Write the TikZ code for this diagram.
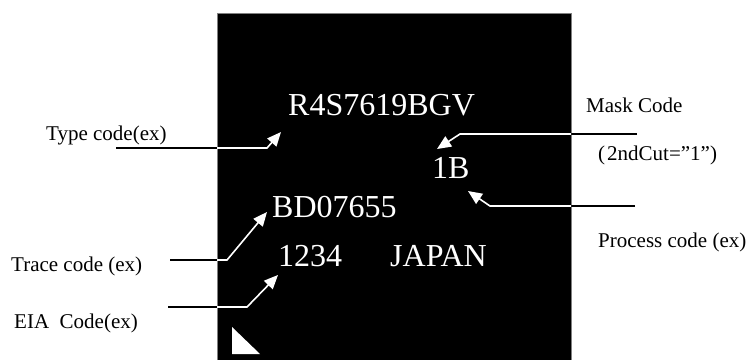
\documentclass[tikz,border=0pt]{standalone}
\usepackage{fontspec}
\setmainfont{Liberation Serif}
\usetikzlibrary{arrows.meta}
\begin{document}
\begin{tikzpicture}[x=1pt,y=-1pt,
  code/.style={text=white,font=\fontsize{32}{38}\selectfont,inner sep=0pt,anchor=base west},
  lbl/.style={text=black,font=\fontsize{21}{25}\selectfont,inner sep=0pt,anchor=base west},
  outline/.style={draw=black,line width=1.6pt},
  inline/.style={draw=white,line width=1.6pt,-{Triangle[length=14pt,width=12pt]}}]
\useasboundingbox (0,0) rectangle (752,360);
\fill[black] (217,13) rectangle (571,360);
\draw[gray,line width=0.4pt] (217,360) -- (217,13) -- (571,13) -- (571,360);
% codes on the chip
\node[code] (type) at (288,115) {R4S7619BGV};
\node[code] (mask) at (432,178) {1B};
\node[code] (trace) at (272,217) {BD07655};
\node[code] (eia) at (278,266) {1234};
\node[code] (japan) at (390,266) {JAPAN};
\fill[white] (232,327) -- (232,354) -- (260,354) -- cycle;
% labels
\node[lbl] (ltype) at (46,140) {Type code(ex)};
\node[lbl] (lmask) at (586,112) {Mask Code};
\node[lbl] (lcut) at (598,160) {(\hspace{2pt}2ndCut=”1”)};
\node[lbl] (lproc) at (598,247) {Process code (ex)};
\node[lbl] (ltrace) at (11,271) {Trace code (ex)};
\node[lbl] (leia) at (14,328) {EIA\ \ Code(ex)};
% connector points
\coordinate (ts) at (116,148); \coordinate (te) at (217,148); \coordinate (tb) at (267,148); \coordinate (tt) at (281,132);
\coordinate (rs) at (170,260); \coordinate (re) at (217,260); \coordinate (rb) at (227,260); \coordinate (rt) at (267,212);
\coordinate (es) at (168,307); \coordinate (ee) at (217,307); \coordinate (eb) at (247,307); \coordinate (et) at (278,275);
\coordinate (ms) at (637,134); \coordinate (me) at (571,134); \coordinate (mb) at (460,134); \coordinate (mt) at (437,149);
\coordinate (ps) at (635,206); \coordinate (pe) at (571,206); \coordinate (pb) at (490,206); \coordinate (pt) at (468,191);
% connectors
\draw[outline] (ts) -- (te); \draw[inline] (te) -- (tb) -- (tt);
\draw[outline] (rs) -- (re); \draw[inline] (re) -- (rb) -- (rt);
\draw[outline] (es) -- (ee); \draw[inline] (ee) -- (eb) -- (et);
\draw[outline] (ms) -- (me); \draw[inline] (me) -- (mb) -- (mt);
\draw[outline] (ps) -- (pe); \draw[inline] (pe) -- (pb) -- (pt);
\end{tikzpicture}
\end{document}
